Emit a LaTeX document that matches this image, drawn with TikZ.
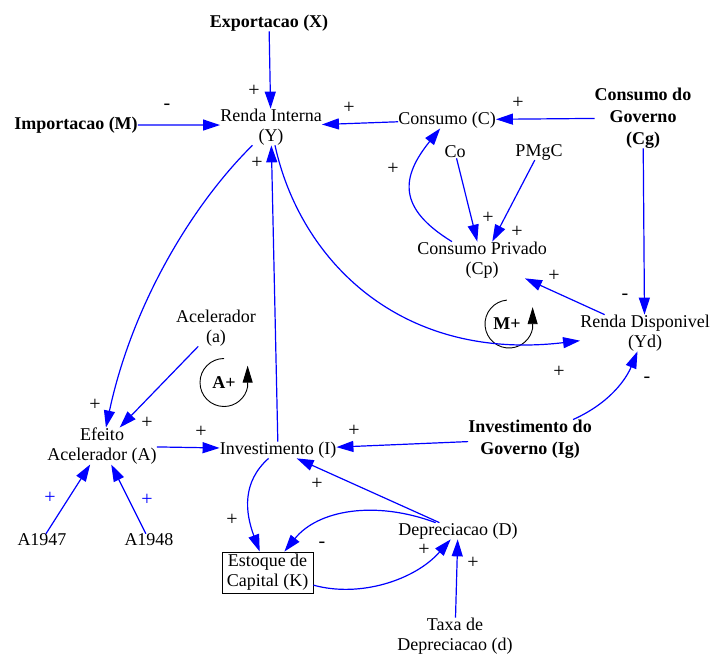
\documentclass[tikz,border=0pt]{standalone}
\usepackage{fontspec}
\setmainfont{Liberation Serif}
\usetikzlibrary{arrows.meta}
\definecolor{linkblue}{RGB}{0,0,255}
\begin{document}
\begin{tikzpicture}[x=1pt,y=1pt,
  var/.style={font=\fontsize{18}{20}\selectfont, align=center, inner sep=0pt},
  exo/.style={font=\fontsize{18}{22}\selectfont\bfseries, align=center, inner sep=0pt},
  stock/.style={var, draw, line width=0.9pt, minimum width=91pt, minimum height=41pt},
  link/.style={draw=linkblue, line width=1.2pt, -{Triangle[length=17pt,width=11pt]}},
  pol/.style={font=\fontsize{20}{22}\selectfont, inner sep=0pt},
  bluepol/.style={pol, text=linkblue},
  loopname/.style={font=\fontsize{18}{20}\selectfont\bfseries, inner sep=0pt},
  looparc/.style={draw=black, line width=0.9pt, -{Triangle[length=17pt,width=10pt]}},
]
\useasboundingbox (0,0) rectangle (710,-655);

% ---------------- variables ----------------
\node[exo] (X)    at (269,-23)  {Exportacao (X)};
\node[exo] (M)    at (76,-125)  {Importacao (M)};
\node[var] (Y)    at (271,-127) {Renda Interna\\(Y)};
\node[var] (C)    at (447,-120) {Consumo (C)};
\node[exo] (Cg)   at (643,-118) {Consumo do\\Governo\\(Cg)};
\node[var] (Co)   at (455,-152) {Co};
\node[var] (PMgC) at (539,-152) {PMgC};
\node[var] (Cp)   at (482,-260) {Consumo Privado\\(Cp)};
\node[var] (Yd)   at (645,-333) {Renda Disponivel\\(Yd)};
\node[var] (a)    at (216,-328) {Acelerador\\(a)};
\node[var] (A)    at (102,-446) {Efeito\\Acelerador (A)};
\node[var] (I)    at (278,-450) {Investimento (I)};
\node[exo] (Ig)   at (530,-439) {Investimento do\\Governo (Ig)};
\node[var] (A47)  at (42,-540)  {A1947};
\node[var] (A48)  at (149,-540) {A1948};
\node[stock] (K)  at (267.5,-572.5) {Estoque de\\Capital (K)};
\node[var] (D)    at (458,-531) {Depreciacao (D)};
\node[var] (d)    at (455,-636) {Taxa de\\Depreciacao (d)};

% ---------------- loop markers ----------------
\node[loopname] (Mloop) at (507,-324) {M+};
\coordinate (Mc) at ([xshift=2pt]Mloop);
\draw[looparc] ([shift={(95:24)}]Mc) arc[start angle=95, end angle=350, radius=24] -- ++(0,21);

\node[loopname] (Aloop) at (224,-383) {A+};
\coordinate (Ac) at ([yshift=0.5pt]Aloop);
\draw[looparc] ([shift={(90:24)}]Ac) arc[start angle=90, end angle=350, radius=24] -- ++(0,21);

% ---------------- causal links ----------------
\draw[link] ([shift={(0,-13)}]X) -- ([shift={(-1,22)}]Y);
\draw[link] ([shift={(66,3)}]M) -- ([shift={(-61,5)}]Y);
\draw[link] ([shift={(-52,-1)}]C) -- ([shift={(62,4)}]Y);
\draw[link] ([shift={(-56,0)}]Cg) -- ([shift={(53,2)}]C);
\draw[link] ([shift={(-55,22)}]Cp) .. controls +(-30,30) and +(-28,-45) .. ([shift={(-18,-12)}]C);
\draw[link] ([shift={(2,-11)}]Co) -- ([shift={(-5,22)}]Cp);
\draw[link] ([shift={(-5,-15)}]PMgC) -- ([shift={(12,23)}]Cp);
\draw[link] ([shift={(-3,-34)}]Cg) -- ([shift={(-2,23)}]Yd);
\draw[link] ([shift={(-53,26)}]Yd) -- ([shift={(51,-23)}]Cp);
\draw[link] ([shift={(5,-21)}]Y) .. controls +(24,-112) and +(-175,-9) .. ([shift={(-70,-20)}]Yd);
\draw[link] ([shift={(68,25)}]Ig) .. controls +(14,12) and +(-10,-20) .. ([shift={(-8,-24)}]Yd);
\draw[link] ([shift={(-68,-2)}]Ig) -- ([shift={(59,7)}]I);
\draw[link] ([shift={(-1,15)}]I) -- ([shift={(1,-19)}]Y);
\draw[link] ([shift={(-19,-18)}]Y) .. controls +(-60,-60) and +(22,110) .. ([shift={(8,31)}]A);
\draw[link] ([shift={(-19,-19)}]a) -- ([shift={(23,24)}]A);
\draw[link] ([shift={(60,0)}]A) -- ([shift={(-61,4)}]I);
\draw[link] ([shift={(8,13)}]A47) -- ([shift={(-15,-22)}]A);
\draw[link] ([shift={(-6,12)}]A48) -- ([shift={(13,-22)}]A);
\draw[link] ([shift={(-11,-12)}]I) .. controls +(-25,-20) and +(-12,40) .. ([shift={(-10.5,20.5)}]K);
\draw[link] ([shift={(-28,13)}]D) -- ([shift={(30,-12)}]I);
\draw[link] ([shift={(-31,14)}]D) .. controls +(-52,17) and +(35,42) .. ([shift={(15.5,20.5)}]K);
\draw[link] ([shift={(47.5,-17.5)}]K) .. controls +(45,-8) and +(-32,-35) .. ([shift={(-11,-14)}]D);
\draw[link] ([shift={(0,24)}]d) -- ([shift={(-1,-14)}]D);

% ---------------- link polarities ----------------
\node[pol] (pXY)   at (254,-91)  {+};
\node[pol] (pMY)   at (167,-107) {-};
\node[pol] (pCY)   at (349,-108) {+};
\node[pol] (pCgC)  at (518,-103) {+};
\node[pol] (pCpC)  at (393,-169) {+};
\node[pol] (pCoCp) at (488,-218) {+};
\node[pol] (pPCp)  at (517,-232) {+};
\node[pol] (pYdCp) at (554,-276) {+};
\node[pol] (pCgYd) at (625,-297) {-};
\node[pol] (pYYd)  at (559,-372) {+};
\node[pol] (pIgYd) at (647,-380) {-};
\node[pol] (pIY)   at (257,-163) {+};
\node[pol] (pYA)   at (95,-405)  {+};
\node[pol] (paA)   at (147,-423) {+};
\node[pol] (pAI)   at (201,-432) {+};
\node[pol] (pIgI)  at (354,-431) {+};
\node[bluepol] (p47) at (50,-498) {+};
\node[bluepol] (p48) at (147,-500) {+};
\node[pol] (pIK)   at (232,-520) {+};
\node[pol] (pDI)   at (317,-484) {+};
\node[pol] (pDK)   at (322,-545) {-};
\node[pol] (pKD)   at (424,-550) {+};
\node[pol] (pdD)   at (473,-563) {+};
\end{tikzpicture}
\end{document}
